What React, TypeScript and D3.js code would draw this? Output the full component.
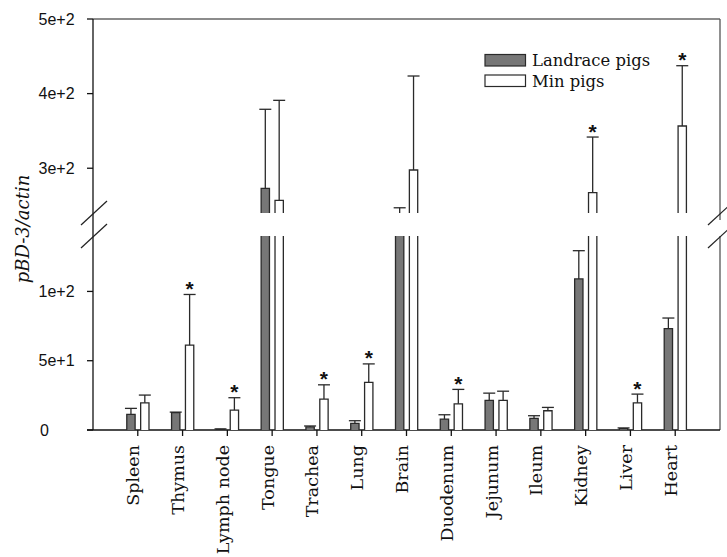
import React from 'react';
import * as d3 from 'd3';

const categories = [
  'Spleen', 'Thymus', 'Lymph node', 'Tongue', 'Trachea', 'Lung', 'Brain',
  'Duodenum', 'Jejunum', 'Ileum', 'Kidney', 'Liver', 'Heart'
];
const series = ['Landrace pigs', 'Min pigs'];

// means and error (sd)
const landrace = [11.3, 12.5, 0.5, 273, 2.2, 4.8, 235, 7.9, 21.4, 8.4, 109, 1, 73.2];
const landraceErr = [4.3, 0.4, 0.3, 106, 0.7, 1.9, 12, 3.1, 5.2, 1.9, 20.4, 0.5, 7.6];
const minPigs = [19.6, 61.2, 14.4, 257, 22.3, 34.3, 297.6, 18.9, 21.4, 13.9, 267.2, 19.6, 356.6];
const minErr = [5.6, 36.6, 8.9, 134, 10.3, 13.4, 126, 10.4, 6.6, 2.4, 74.6, 6.3, 80.8];
const significant = ['Thymus', 'Lymph node', 'Trachea', 'Lung', 'Duodenum', 'Kidney', 'Liver', 'Heart'];

const lowTicks = [0, 50, 100];
const lowTickLabels = ['0', '5e+1', '1e+2'];
const highTicks = [300, 400, 500];
const highTickLabels = ['3e+2', '4e+2', '5e+2'];

const left = 93;
const right = 720;
const top = 19;
const bottom = 430;

const x = d3.scalePoint().domain(categories).range([left, right]).padding(1);
const xs = d3.scaleBand().domain(series).range([-11, 11.2]).paddingInner(0.4);

// the axis is broken in two segments
const yLow = d3.scaleLinear().domain([0, 140]).range([bottom, 236]).clamp(true);
const yHigh = d3.scaleLinear().domain([240, 500]).range([213, top]).clamp(true);
const segments = [yLow, yHigh];

const fills = ['#777777', '#ffffff'];
const dark = '#2a2a2a';

const rows = categories.map((c, i) => ({
  cat: c,
  vals: [
    { s: series[0], v: landrace[i], e: landraceErr[i], star: false },
    { s: series[1], v: minPigs[i], e: minErr[i], star: significant.includes(c) }
  ]
}));

function Bar({ cx, s, v, e, star, fill, y }) {
  const [d0, d1] = y.domain();
  const x0 = cx + xs(s);
  const w = xs.bandwidth();
  const yb = y(d0);
  const yt = y(v);
  if (v < d0) {
    // bar ends in the gap, only a piece of the error bar may show
    const ye = y(v + e);
    if (v + e <= d0) return null;
    return (
      <g>
        <line x1={x0 + w / 2} x2={x0 + w / 2} y1={yb} y2={ye} stroke={dark} strokeWidth={1.3} />
        <line x1={x0 + w / 2 - 6} x2={x0 + w / 2 + 6} y1={ye} y2={ye} stroke={dark} strokeWidth={1.3} />
      </g>
    );
  }
  const clipped = v > d1;
  const path = clipped
    ? `M${x0},${yb}V${yt}M${x0 + w},${yt}V${yb}`
    : `M${x0},${yb}V${yt}H${x0 + w}V${yb}`;
  const top2 = v + e;
  const ye = y(top2);
  const showCap = top2 >= d0 && top2 <= d1;
  return (
    <g>
      <rect x={x0} y={yt} width={w} height={yb - yt} fill={fill} />
      <path d={path} fill="none" stroke={dark} strokeWidth={1.3} />
      {!clipped && (
        <line x1={x0 + w / 2} x2={x0 + w / 2} y1={yt} y2={ye} stroke={dark} strokeWidth={1.3} />
      )}
      {!clipped && showCap && (
        <line x1={x0 + w / 2 - 6} x2={x0 + w / 2 + 6} y1={ye} y2={ye} stroke={dark} strokeWidth={1.3} />
      )}
      {star && showCap && (
        <text x={x0 + w / 2} y={ye + 1.5} textAnchor="middle" fontFamily="Liberation Sans, Arial" fontWeight="bold" fontSize={21} fill="#111">*</text>
      )}
    </g>
  );
}

export default function App() {
  return (
    <svg width={727} height={557} style={{ position: 'absolute', left: 0, top: 0, background: '#fff' }}>
      {/* frame */}
      <line x1={left} x2={right} y1={top} y2={top} stroke="#666" strokeWidth={1.6} />
      <line x1={right} x2={right} y1={top} y2={220} stroke="#555" strokeWidth={1.3} />
      <line x1={right} x2={right} y1={236} y2={bottom} stroke="#555" strokeWidth={1.3} />
      <line x1={left} x2={left} y1={top} y2={bottom} stroke="#111" strokeWidth={1.3} />
      <line x1={87} x2={right} y1={bottom} y2={bottom} stroke="#111" strokeWidth={1.3} />

      {/* break marks */}
      {[0, 23].map(dy => (
        <g key={dy}>
          <line x1={81} y1={225 + dy} x2={107} y2={201 + dy} stroke="#222" strokeWidth={1.2} />
          <line x1={708} y1={225 + dy} x2={734} y2={201 + dy} stroke="#222" strokeWidth={1.2} />
        </g>
      ))}

      {/* y ticks */}
      {lowTicks.map((t, i) => (
        <g key={'l' + t}>
          <line x1={87} x2={left} y1={yLow(t)} y2={yLow(t)} stroke="#111" strokeWidth={1.3} />
          <text x={t === 0 ? 40 : 38.5} y={yLow(t)} dy="0.36em" fontFamily="Liberation Sans, Arial" fontSize={16} fill="#111">
            {lowTickLabels[i]}
          </text>
        </g>
      ))}
      {highTicks.map((t, i) => (
        <g key={'h' + t}>
          <line x1={87} x2={left} y1={yHigh(t)} y2={yHigh(t)} stroke="#111" strokeWidth={1.3} />
          <text x={38.5} y={yHigh(t)} dy="0.36em" fontFamily="Liberation Sans, Arial" fontSize={16} fill="#111">
            {highTickLabels[i]}
          </text>
        </g>
      ))}

      {/* bars, drawn once per axis segment */}
      {segments.map((y, k) =>
        rows.map(r =>
          r.vals.map((d, j) => (
            <Bar key={k + r.cat + d.s} cx={x(r.cat)} s={d.s} v={d.v} e={d.e} star={d.star} fill={fills[j]} y={y} />
          ))
        )
      )}

      {/* x axis */}
      {categories.map(c => (
        <g key={c}>
          <line x1={x(c)} x2={x(c)} y1={bottom} y2={436} stroke="#111" strokeWidth={1.3} />
          <text
            transform={`translate(${x(c) + 1.5},445) rotate(-90)`}
            textAnchor="end"
            fontFamily="DejaVu Serif"
            fontSize={17.5}
            fill="#111"
          >
            {c}
          </text>
        </g>
      ))}

      {/* y label */}
      <text
        transform="translate(29,229) rotate(-90)"
        textAnchor="middle"
        fontFamily="DejaVu Serif"
        fontStyle="italic"
        fontSize={18}
        fill="#111"
      >
        pBD-3/actin
      </text>

      {/* legend */}
      {series.map((s, i) => (
        <g key={s} transform={`translate(485,${54.5 + i * 20.5})`}>
          <rect width={40.5} height={11.5} fill={fills[i]} stroke={dark} strokeWidth={1.2} />
          <text x={47} y={11.5} fontFamily="DejaVu Serif" fontSize={16.4} fill="#111">{s}</text>
        </g>
      ))}
    </svg>
  );
}
